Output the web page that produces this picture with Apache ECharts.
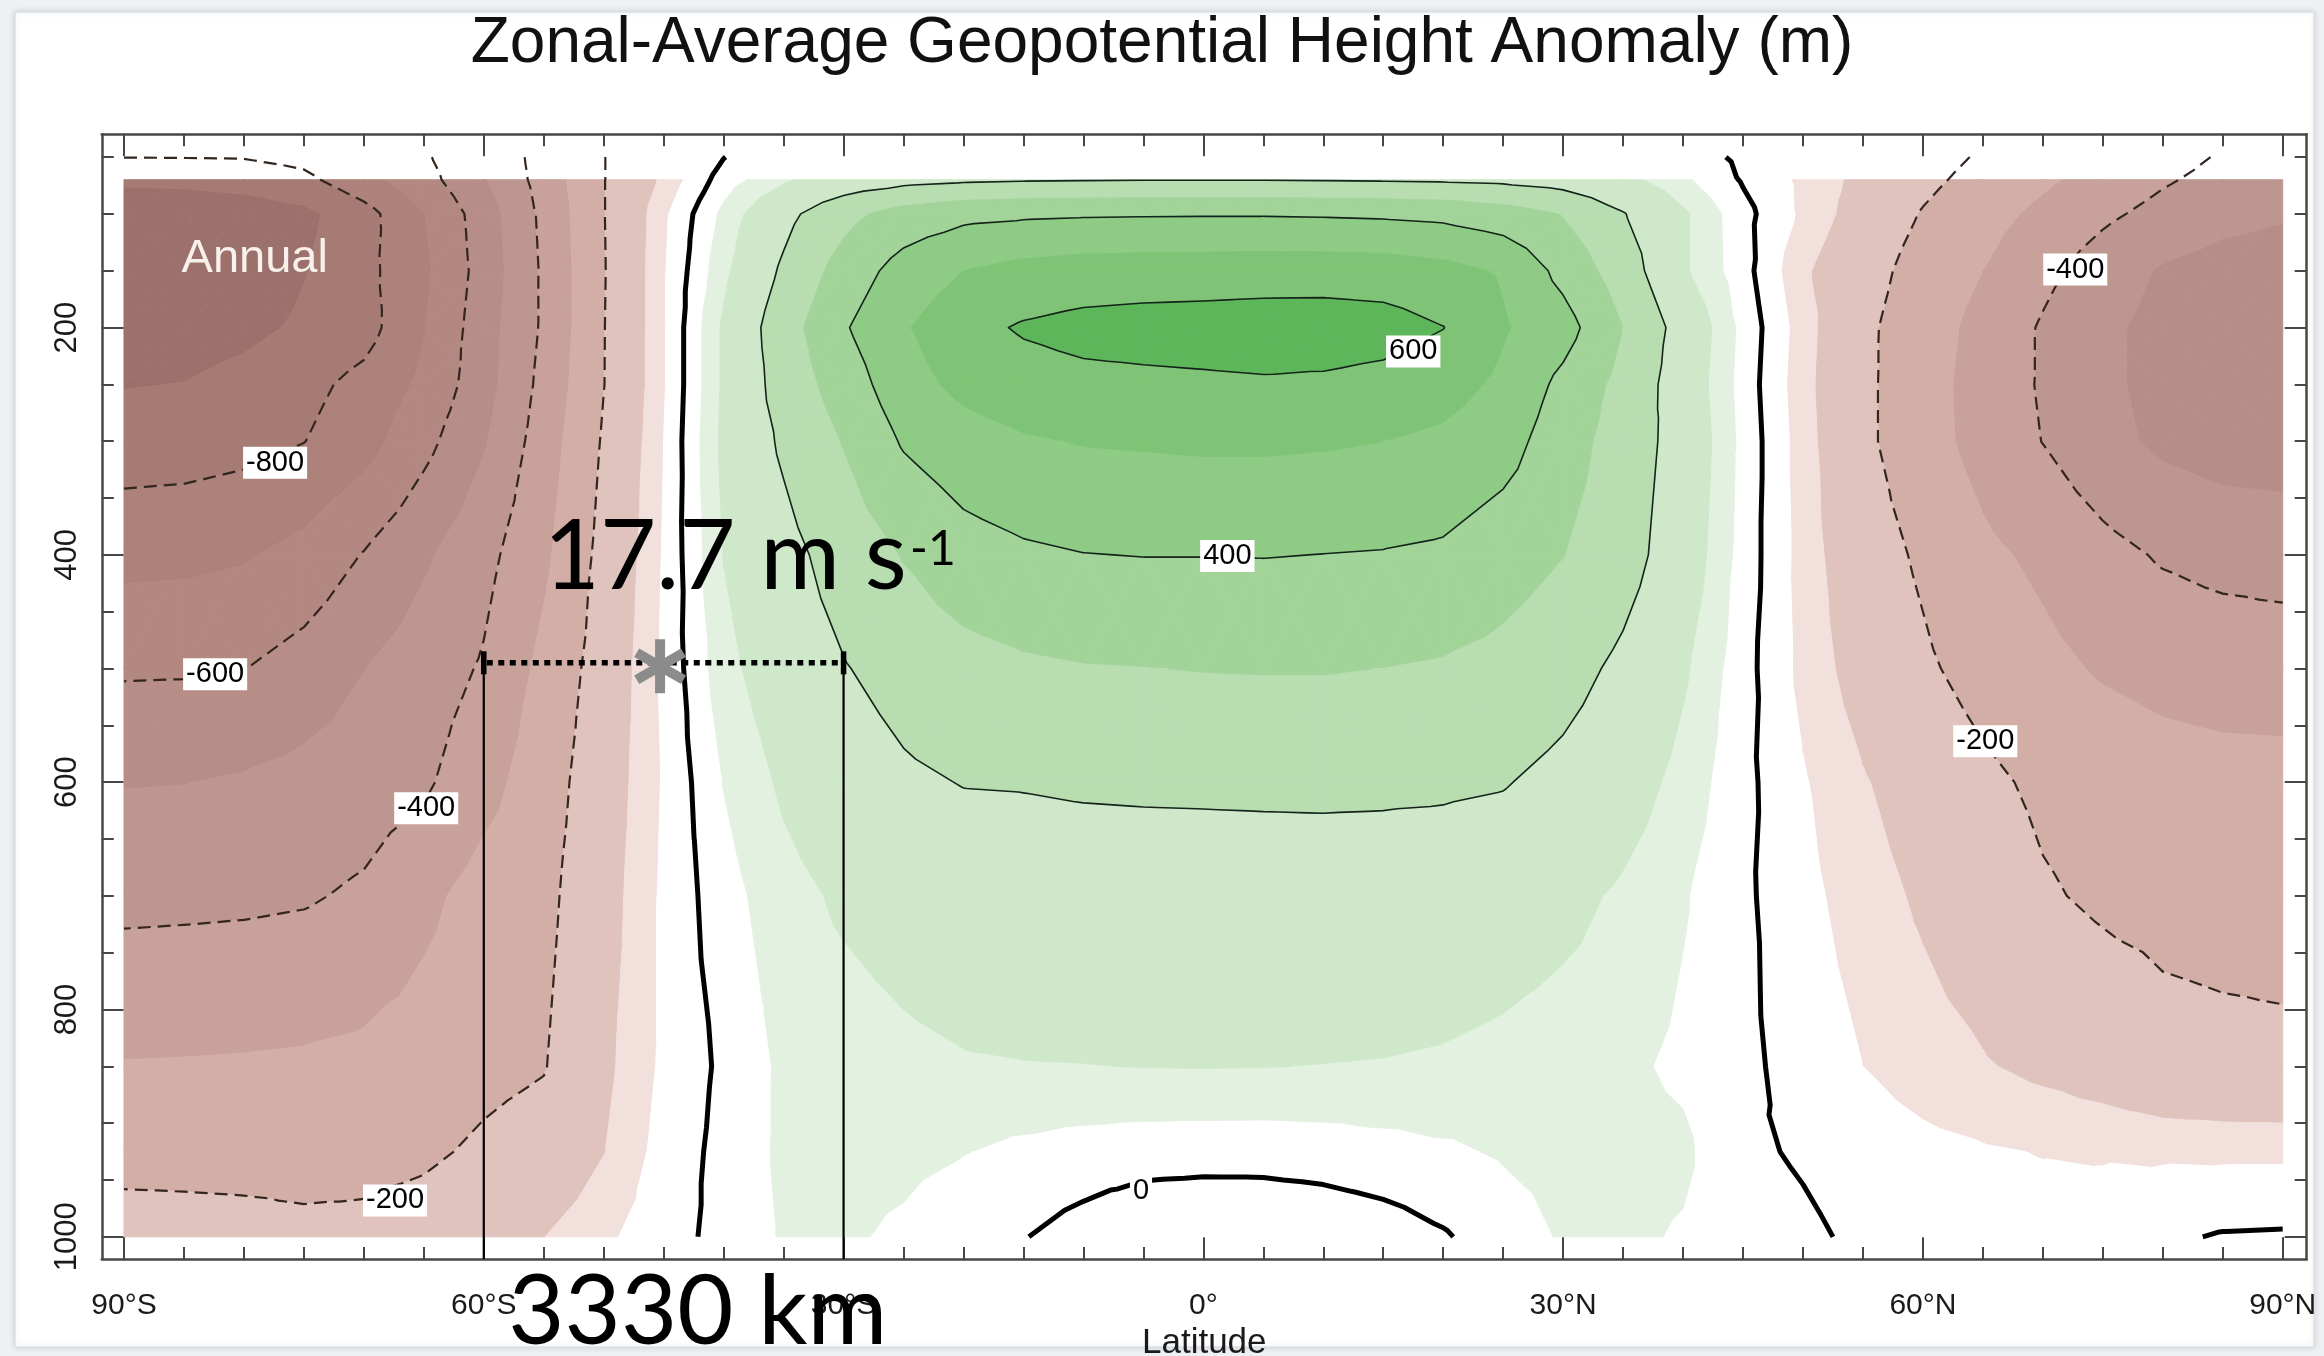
<!DOCTYPE html>
<html>
<head>
<meta charset="utf-8">
<title>Zonal-Average Geopotential Height Anomaly</title>
<script src="https://cdn.jsdelivr.net/npm/echarts@6/dist/echarts.min.js"></script>
<style>
  html, body { margin: 0; padding: 0; background: #eef1f4; }
  #chart { width: 2324px; height: 1356px; }
</style>
</head>
<body>
<div id="chart"></div>
<script>
// ---------------------------------------------------------------------------
// Zonal-mean geopotential height anomaly (m), latitude x pressure
// ---------------------------------------------------------------------------
const latitudes = [-90, -85, -80, -75, -70, -65, -60, -55, -50, -45, -40, -35, -30, -25, -20, -15, -10, -5,
  0, 5, 10, 15, 20, 25, 30, 35, 40, 45, 50, 55, 60, 65, 70, 75, 80, 85, 90];
const pressureLevels = [50, 70, 100, 150, 200, 250, 300, 400, 500, 600, 700, 850, 925, 1000];

// one row per pressure level, south pole to north pole
const z50   = [-798, -797, -795, -770, -690, -615, -505, -351, -203, -100, -2, 60, 100, 130, 150, 160, 165, 170, 170, 170, 165, 160, 150, 130, 100, 70, 30, -12, -62, -112, -161, -211, -262, -312, -361, -410, -440];
const z70   = [-880, -875, -860, -825, -735, -638, -510, -360, -203, -87, 25, 90, 140, 170, 185, 192, 195, 197, 197, 197, 195, 192, 188, 180, 160, 120, 60, -5, -61, -119, -177, -232, -284, -337, -389, -430, -450];
const z100  = [-975, -970, -955, -925, -837, -703, -551, -377, -203, -60, 63, 172, 270, 340, 375, 385, 390, 392, 393, 393, 390, 385, 375, 345, 295, 205, 110, 17, -60, -133, -206, -264, -322, -381, -430, -470, -490];
const z150  = [-985, -980, -960, -905, -830, -720, -560, -385, -205, -55, 85, 215, 340, 440, 500, 530, 545, 550, 552, 555, 555, 550, 530, 490, 370, 250, 110, 20, -90, -160, -240, -300, -375, -450, -510, -540, -550];
const z200  = [-950, -945, -925, -885, -840, -705, -545, -385, -203, -55, 110, 255, 390, 490, 570, 610, 630, 638, 642, 648, 650, 640, 602, 510, 440, 300, 160, 35, -75, -180, -255, -330, -410, -480, -530, -555, -560];
const z250  = [-905, -898, -870, -830, -770, -680, -540, -370, -202, -55, 110, 240, 345, 460, 525, 560, 575, 580, 585, 590, 585, 570, 540, 480, 375, 270, 150, 30, -80, -180, -260, -340, -410, -480, -530, -555, -560];
const z300  = [-850, -845, -830, -802, -740, -630, -510, -350, -190, -50, 115, 215, 305, 410, 460, 490, 505, 510, 515, 515, 510, 500, 480, 440, 345, 255, 160, 35, -75, -180, -260, -335, -402, -470, -520, -545, -550];
const z400  = [-730, -725, -710, -670, -595, -515, -430, -320, -170, -45, 102, 170, 240, 305, 360, 385, 398, 402, 402, 403, 399, 395, 385, 345, 302, 240, 145, 30, -70, -155, -215, -280, -320, -370, -410, -430, -440];
const z500  = [-612, -610, -602, -560, -502, -450, -390, -275, -155, -40, 80, 145, 195, 235, 265, 285, 295, 298, 303, 305, 305, 299, 290, 270, 235, 180, 110, 20, -65, -130, -185, -235, -275, -310, -330, -342, -345];
const z600  = [-505, -502, -490, -470, -450, -415, -335, -245, -140, -45, 52, 110, 150, 185, 203, 205, 210, 212, 213, 214, 215, 214, 212, 205, 175, 135, 80, 15, -45, -95, -135, -180, -218, -240, -260, -268, -270];
const z700  = [-425, -422, -418, -410, -385, -325, -260, -225, -130, -40, 30, 80, 110, 130, 145, 152, 155, 157, 158, 160, 160, 158, 152, 140, 120, 90, 55, 10, -35, -75, -110, -145, -190, -215, -228, -233, -235];
const z850  = [-295, -293, -290, -285, -275, -255, -225, -205, -115, -40, 10, 60, 72, 85, 95, 98, 99, 101, 102, 101, 99, 97, 92, 82, 70, 60, 40, 12, -20, -50, -75, -95, -115, -135, -165, -175, -180];
const z925  = [-230, -231, -232, -232, -225, -215, -185, -160, -102, -30, 15, 60, 70, 65, 52, 38, 28, 22, 20, 20, 24, 32, 42, 55, 65, 68, 60, 8, -5, -20, -35, -45, -52, -55, -58, -60, -60];
const z1000 = [-162, -165, -170, -180, -180, -160, -130, -101, -60, -20, 15, 55, 58, 40, 12, 2, -20, -42, -48, -46, -38, -25, -5, 25, 55, 60, 45, 20, 8, -8, -20, -28, -30, -25, -8, 4, 6];
const heightAnomaly = [z50, z70, z100, z150, z200, z250, z300, z400, z500, z600, z700, z850, z925, z1000];

// contour line levels and shading intervals
const lineLevels = [-800, -600, -400, -200, 0, 200, 400, 600];
const fillBreaks = [-900, -800, -700, -600, -500, -400, -300, -200, -100, -50, 50, 100, 200, 300, 400, 500, 600];
const fillColors = ['#9c716b', '#a67b74', '#ad827b', '#b28881', '#b78e87', '#bd968f', '#c7a19a', '#d2aea7',
  '#e0c3bd', '#f2e0dc', '#ffffff', '#e3f1e0', '#cfe8ca', '#b7ddb1', '#a2d49a', '#8ecb85', '#7fc476', '#5db65a'];
const fillTopLevel = 70;

// axis ticks and labels
const latTickValues = [-90, -60, -30, 0, 30, 60, 90];
const latTickLabels = ['90°S', '60°S', '30°S', '0°', '30°N', '60°N', '90°N'];
const latMinorTicks = [];
for (let v = -90; v <= 90; v += 5) latMinorTicks.push(v);
const presTickValues = [200, 400, 600, 800, 1000];
const presMinorTicks = [];
for (let v = 50; v <= 1000; v += 50) presMinorTicks.push(v);

// inline contour labels: [level, latitude, pressure]
const contourLabels = [
  [-800, -77.4, 319], [-600, -82.4, 505], [-400, -64.8, 623], [-200, -67.4, 968],
  [600, 17.5, 221], [400, 2.0, 401], [0, -5.2, 960],
  [-400, 72.7, 149], [-200, 65.2, 564]
];

// overlay annotation: jet scale bar
const seasonLabel = 'Annual';
const jetSpeedText = '17.7 m s';
const jetSpeedExponent = '-1';
const jetWidthText = '3330 km';
const jetSpan = [-60, -30];
const jetLevel = 495;
const jetCore = [-45.3, 498];

// ---------------------------------------------------------------------------
// Contouring on a triangulated grid (each cell split at its centre)
// ---------------------------------------------------------------------------
const nLat = latitudes.length, nLev = pressureLevels.length;
const verts = [];
for (let i = 0; i < nLev; i++) {
  for (let j = 0; j < nLat; j++) {
    verts.push({ x: latitudes[j], y: pressureLevels[i], v: heightAnomaly[i][j], id: i * nLat + j });
  }
}
const node = (i, j) => verts[i * nLat + j];
let nextId = verts.length;
const tris = [];
for (let i = 0; i < nLev - 1; i++) {
  for (let j = 0; j < nLat - 1; j++) {
    const a = node(i, j), b = node(i, j + 1), c = node(i + 1, j + 1), d = node(i + 1, j);
    const m = { x: (a.x + b.x) / 2, y: (a.y + d.y) / 2, v: (a.v + b.v + c.v + d.v) / 4, id: nextId++ };
    [[a, b], [b, c], [c, d], [d, a]].forEach(([p, q]) => tris.push({ row: i, pts: [p, q, m] }));
  }
}

function edgePoint(p, q, level) {
  if (p.id > q.id) { const t = p; p = q; q = t; }
  const t = (level - p.v) / (q.v - p.v);
  return [p.x + t * (q.x - p.x), p.y + t * (q.y - p.y)];
}
const keyOf = pt => pt[0].toFixed(5) + '|' + pt[1].toFixed(5);

function contourLines(level) {
  const segs = [];
  for (const tr of tris) {
    const P = tr.pts;
    const s = P.map(p => p.v >= level);
    if (s[0] === s[1] && s[1] === s[2]) continue;
    const cps = [];
    [[0, 1], [1, 2], [2, 0]].forEach(([u, w]) => { if (s[u] !== s[w]) cps.push(edgePoint(P[u], P[w], level)); });
    if (cps.length === 2) segs.push({ p: cps, k: cps.map(keyOf) });
  }
  const adj = new Map();
  segs.forEach((sg, n) => sg.k.forEach(k => { if (!adj.has(k)) adj.set(k, []); adj.get(k).push(n); }));
  const used = new Array(segs.length).fill(false);
  const out = [];
  const walk = (n, e) => {
    const pts = [segs[n].p[e]];
    let cur = n, end = 1 - e;
    for (;;) {
      used[cur] = true;
      pts.push(segs[cur].p[end]);
      const k = segs[cur].k[end];
      const nx = (adj.get(k) || []).find(m => !used[m]);
      if (nx === undefined) break;
      end = segs[nx].k[0] === k ? 1 : 0;
      cur = nx;
    }
    return pts;
  };
  segs.forEach((sg, n) => {
    for (let e = 0; e < 2; e++) {
      if (!used[n] && adj.get(sg.k[e]).length === 1) out.push(walk(n, e));
    }
  });
  segs.forEach((sg, n) => { if (!used[n]) out.push(walk(n, 0)); });
  return out;
}

function clipPoly(poly, level, keepAbove) {
  const out = [];
  for (let k = 0; k < poly.length; k++) {
    const P = poly[k], Q = poly[(k + 1) % poly.length];
    const pin = keepAbove ? P.v >= level : P.v <= level;
    const qin = keepAbove ? Q.v >= level : Q.v <= level;
    if (pin) out.push(P);
    if (pin !== qin) {
      const t = (level - P.v) / (Q.v - P.v);
      out.push({ x: P.x + t * (Q.x - P.x), y: P.y + t * (Q.y - P.y), v: level });
    }
  }
  return out;
}

// shaded bands
const fillPolys = [];
const fillTopRow = pressureLevels.indexOf(fillTopLevel);
for (const tr of tris) {
  if (tr.row < fillTopRow) continue;
  const vs = tr.pts.map(p => p.v);
  const lo = Math.min(...vs), hi = Math.max(...vs);
  for (let b = 0; b < fillColors.length; b++) {
    const bl = b === 0 ? -Infinity : fillBreaks[b - 1];
    const bh = b === fillColors.length - 1 ? Infinity : fillBreaks[b];
    if (hi < bl || lo > bh) continue;
    let poly = tr.pts.map(p => ({ x: p.x, y: p.y, v: p.v }));
    if (isFinite(bl)) poly = clipPoly(poly, bl, true);
    if (poly.length >= 3 && isFinite(bh)) poly = clipPoly(poly, bh, false);
    if (poly.length >= 3) fillPolys.push({ pts: poly.map(p => [p.x, p.y]), color: fillColors[b] });
  }
}

// contour polylines
const contourPaths = [];
lineLevels.forEach(level => {
  contourLines(level).forEach(pts => contourPaths.push({ level, pts }));
});

function lineStyleFor(level) {
  if (level === 0) return { stroke: '#000000', lineWidth: 5, lineDash: null };
  if (level < 0) return { stroke: '#33261f', lineWidth: 2.2, lineDash: [13, 7] };
  return { stroke: '#15241a', lineWidth: 1.6, lineDash: null };
}

// ---------------------------------------------------------------------------
// Chart
// ---------------------------------------------------------------------------
const FONT = '"Liberation Sans", Arial, Helvetica, sans-serif';
const BIG_FONT = 'Lato, "Open Sans", "Noto Sans", sans-serif';
const axisColor = '#474747';
const xMin = -91.85, xMax = 92.0, yMin = 30, yMax = 1019.5;

function latAxis(position, major, withLine, withLabels) {
  const ax = {
    type: 'value', min: xMin, max: xMax, position: position,
    axisLine: { show: withLine, onZero: false, lineStyle: { color: axisColor, width: 2.5 } },
    axisTick: { show: true, inside: true, length: major ? 22 : 12,
      customValues: major ? latTickValues : latMinorTicks, lineStyle: { color: axisColor, width: 2 } },
    axisLabel: { show: false },
    splitLine: { show: false }
  };
  if (withLabels) {
    ax.axisLabel = {
      show: true, customValues: latTickValues, margin: 32,
      formatter: v => latTickLabels[latTickValues.indexOf(Math.round(v))],
      fontSize: 30, color: '#1a1a1a', fontFamily: FONT
    };
    ax.name = 'Latitude';
    ax.nameLocation = 'middle';
    ax.nameGap = 65;
    ax.nameTextStyle = { fontSize: 35, color: '#1a1a1a', fontFamily: FONT };
  }
  return ax;
}
function presAxis(position, major, withLine, withLabels) {
  const ax = {
    type: 'value', min: yMin, max: yMax, inverse: true, position: position,
    axisLine: { show: withLine, onZero: false, lineStyle: { color: axisColor, width: 2.5 } },
    axisTick: { show: true, inside: true, length: major ? 22 : 12,
      customValues: major ? presTickValues : presMinorTicks, lineStyle: { color: axisColor, width: 2 } },
    axisLabel: { show: false },
    splitLine: { show: false }
  };
  if (withLabels) {
    ax.axisLabel = {
      show: true, customValues: presTickValues, rotate: 90, margin: 19,
      formatter: v => String(Math.round(v)),
      fontSize: 31, color: '#1a1a1a', fontFamily: FONT
    };
  }
  return ax;
}

const chart = echarts.init(document.getElementById('chart'), null, { renderer: 'canvas', width: 2324, height: 1356 });

const option = {
  animation: false,
  backgroundColor: '#eef1f4',
  graphic: [{
    type: 'rect', z: -100, silent: true,
    shape: { x: 15, y: 12, width: 2299, height: 1335 },
    style: { fill: '#ffffff', stroke: '#dce1e5', lineWidth: 1.5, shadowBlur: 6, shadowColor: 'rgba(0,0,0,0.12)' }
  }],
  title: {
    text: 'Zonal-Average Geopotential Height Anomaly (m)',
    left: 'center', top: 7,
    textStyle: { fontFamily: FONT, fontSize: 64, fontWeight: 'normal', color: '#111111' }
  },
  grid: { left: 101.8, top: 134.3, width: 2204.9, height: 1124.7, containLabel: false, outerBoundsMode: 'none' },
  xAxis: [
    latAxis('bottom', false, true, true),
    latAxis('bottom', true, false, false),
    latAxis('top', false, true, false),
    latAxis('top', true, false, false)
  ],
  yAxis: [
    presAxis('left', false, true, true),
    presAxis('left', true, false, false),
    presAxis('right', false, true, false),
    presAxis('right', true, false, false)
  ],
  series: [
    {
      type: 'custom', name: 'shading', xAxisIndex: 0, yAxisIndex: 0, z: 2, clip: true, silent: true,
      data: fillPolys.map((_, i) => [i, pressureLevels[0]]),
      renderItem: (params, api) => {
        const f = fillPolys[params.dataIndex];
        return {
          type: 'polygon',
          shape: { points: f.pts.map(p => api.coord(p)) },
          style: { fill: f.color, stroke: f.color, lineWidth: 1 }
        };
      }
    },
    {
      type: 'custom', name: 'contours', xAxisIndex: 0, yAxisIndex: 0, z: 3, clip: true, silent: true,
      data: contourPaths.map((_, i) => [i, pressureLevels[0]]),
      renderItem: (params, api) => {
        const c = contourPaths[params.dataIndex];
        const st = lineStyleFor(c.level);
        return {
          type: 'polyline',
          shape: { points: c.pts.map(p => api.coord(p)) },
          style: { fill: null, stroke: st.stroke, lineWidth: st.lineWidth, lineDash: st.lineDash, lineJoin: 'round' }
        };
      }
    },
    {
      type: 'custom', name: 'contour labels', xAxisIndex: 0, yAxisIndex: 0, z: 4, clip: false, silent: true,
      data: contourLabels.map((_, i) => [i, pressureLevels[0]]),
      renderItem: (params, api) => {
        const [level, lat, p] = contourLabels[params.dataIndex];
        const pt = api.coord([lat, p]);
        return {
          type: 'text', x: pt[0], y: pt[1],
          style: {
            text: String(level), fill: '#000000', fontSize: 29, fontFamily: FONT,
            align: 'center', verticalAlign: 'middle', backgroundColor: '#ffffff', padding: [2, 3, 1, 3]
          }
        };
      }
    },
    {
      type: 'custom', name: 'annotation', xAxisIndex: 0, yAxisIndex: 0, z: 5, clip: false, silent: true,
      data: [[jetSpan[0], jetLevel]],
      renderItem: (params, api) => {
        const L = api.coord([jetSpan[0], jetLevel]);
        const R = api.coord([jetSpan[1], jetLevel]);
        const Lb = api.coord([jetSpan[0], yMax]);
        const Rb = api.coord([jetSpan[1], yMax]);
        const C = api.coord(jetCore);
        const season = api.coord([-85.2, 140]);
        const speed = api.coord([-55.0, 402.6]);
        const expo = api.coord([-24.45, 395.7]);
        const width = api.coord([-57.95, 1066.8]);
        const arm = 27;
        const children = [
          { type: 'line', shape: { x1: L[0], y1: L[1] - 11, x2: Lb[0], y2: Lb[1] }, style: { stroke: '#000', lineWidth: 2.2 } },
          { type: 'line', shape: { x1: R[0], y1: R[1] - 11, x2: Rb[0], y2: Rb[1] }, style: { stroke: '#000', lineWidth: 2.2 } },
          { type: 'line', shape: { x1: L[0] + 3, y1: L[1], x2: R[0] - 3, y2: R[1] }, style: { stroke: '#000', lineWidth: 5.5, lineDash: [6, 5.5] } },
          { type: 'line', shape: { x1: L[0], y1: L[1] - 11.5, x2: L[0], y2: L[1] + 11.5 }, style: { stroke: '#000', lineWidth: 5.5 } },
          { type: 'line', shape: { x1: R[0], y1: R[1] - 11.5, x2: R[0], y2: R[1] + 11.5 }, style: { stroke: '#000', lineWidth: 5.5 } }
        ];
        [90, 30, -30].forEach(deg => {
          const r = deg * Math.PI / 180;
          children.push({ type: 'line',
            shape: { x1: C[0] - arm * Math.cos(r), y1: C[1] + arm * Math.sin(r), x2: C[0] + arm * Math.cos(r), y2: C[1] - arm * Math.sin(r) },
            style: { stroke: '#8b8b8b', lineWidth: 10 } });
        });
        children.push(
          { type: 'text', x: season[0], y: season[1],
            style: { text: seasonLabel, fill: '#f8f0ea', fontSize: 47, fontFamily: FONT, align: 'left', verticalAlign: 'middle' } },
          { type: 'text', x: speed[0], y: speed[1],
            style: { text: jetSpeedText, fill: '#000', fontSize: 97, fontFamily: BIG_FONT, align: 'left', verticalAlign: 'middle' } },
          { type: 'text', x: expo[0], y: expo[1],
            style: { text: jetSpeedExponent, fill: '#000', fontSize: 48, fontFamily: BIG_FONT, align: 'left', verticalAlign: 'middle' } },
          { type: 'text', x: width[0], y: width[1],
            style: { text: jetWidthText, fill: '#000', fontSize: 97, fontFamily: BIG_FONT, align: 'left', verticalAlign: 'middle' } }
        );
        return { type: 'group', children };
      }
    }
  ]
};

chart.setOption(option);
</script>
</body>
</html>
